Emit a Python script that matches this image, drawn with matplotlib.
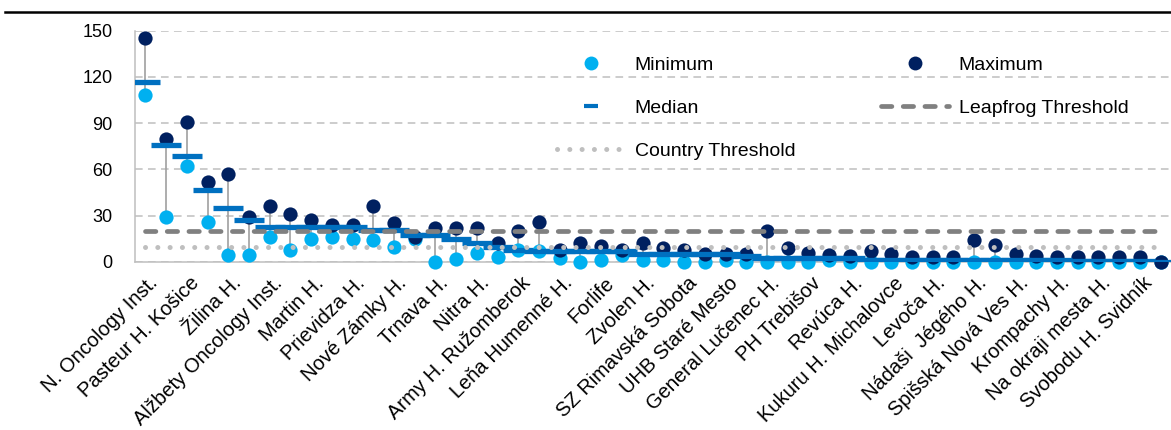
import numpy as np
import matplotlib
matplotlib.use("Agg")
import matplotlib.pyplot as plt
from matplotlib.lines import Line2D

plt.rcParams['font.family'] = ['Liberation Sans', 'DejaVu Sans']

# Etiquetas (una de cada dos categorías lleva nombre)
labels = ["N. Oncology Inst.", "Pasteur H. Košice", "Žilina H.", "Alžbety Oncology Inst.",
          "Martin H.", "Prievidza H.", "Nové Zámky H.", "Trnava H.", "Nitra H.",
          "Army H. Ružomberok", "Leňa Humenné H.", "Forlife", "Zvolen H.",
          "SZ Rimavská Sobota", "UHB Staré Mesto", "General Lučenec H.", "PH Trebišov",
          "Revúca H.", "Kukuru H. Michalovce", "Levoča H.", "Nádaši  Jégého H.",
          "Spišská Nová Ves H.", "Krompachy H.", "Na okraji mesta H.", "Svobodu H. Svidník"]

maximum = [145, 80, 91, 52, 57, 29, 36, 31, 27, 24,
           24, 36, 25, 16.5, 22, 22, 22, 12, 20, 26,
           8, 12.5, 10.5, 8, 12, 9, 8, 5, 5, 5,
           20, 9, 6, 4.5, 4, 7, 5, 3, 3, 3,
           14, 11, 5, 4, 3, 3, 3, 3, 3, 0]
minimum = [108, 29, 62, 26, 4.5, 4.5, 16, 8, 15, 16.5,
           15, 14, 10, 15, 0, 2, 6, 3, 8, 7,
           2.5, 0, 1, 4.5, 1.5, 1.5, 0, 0, 1.5, 0,
           0, 0, 0, 1.5, 0, 0, 0, 0, 0, 0,
           0, 0, 0, 0, 0, 0, 0, 0, 0, 0]
median = [117, 76, 69, 47, 35, 27, 23, 23, 23, 23,
          23, 21, 21, 17.5, 17.5, 15, 12, 10, 8, 7.3,
          7, 7, 7, 7, 5, 5, 5, 5, 5, 4,
          2.4, 2.4, 2.4, 2.4, 2.4, 1, 1, 1, 1, 1,
          1, 1, 1, 1, 1, 0.7, 0.7, 0.7, 0.7, 0]
leapfrog_threshold = 20
country_threshold = 10

c_min = "#00B0F0"
c_max = "#002060"
c_med = "#0070C0"
c_leap = "#808080"
c_country = "#BFBFBF"

leap_style = dict(color=c_leap, lw=3.4, dashes=(2.2, 2.4), dash_capstyle="round")
country_style = dict(color=c_country, lw=3.6, dashes=(0.01, 2.45), dash_capstyle="round")

n = len(maximum)
x = np.arange(n)

fig = plt.figure(figsize=(11.71, 4.30), dpi=100)
ax = fig.add_axes([135 / 1171, 168 / 430, 1036 / 1171, 231.3 / 430])

# Líneas alto-bajo
ax.vlines(x, minimum, maximum, colors="#A0A0A0", lw=1.2, zorder=2)
ax.scatter(x, minimum, s=105, color=c_min, zorder=3, clip_on=False, linewidths=0)
ax.scatter(x, maximum, s=105, color=c_max, zorder=4, clip_on=False, linewidths=0)
ax.hlines(median, x - 0.72, x + 0.72, colors=c_med, lw=3.8, zorder=5)
ax.plot(x, [leapfrog_threshold] * n, zorder=6, **leap_style)
ax.plot(x, [country_threshold] * n, zorder=7, **country_style)

ax.set_xlim(-0.5, n - 0.5)
ax.set_ylim(0, 150)
ax.set_yticks([0, 30, 60, 90, 120, 150])
ax.yaxis.grid(True, color="#BFBFBF", lw=1.1, dashes=(5, 3.5))
ax.set_axisbelow(True)
ax.tick_params(axis="y", length=0, pad=16, labelsize=13)
ax.tick_params(axis="x", length=0, pad=0)
ax.set_xticks(x[::2])
ax.set_xticklabels([])
for xi, lab in zip(x[::2], labels):
    ax.annotate(lab, xy=(xi, 0), xycoords=("data", "axes fraction"),
                xytext=(7, -13), textcoords="offset points", rotation=45,
                rotation_mode="anchor", ha="right", va="center", fontsize=14.5)

for s in ["top", "right"]:
    ax.spines[s].set_visible(False)
for s in ["left", "bottom"]:
    ax.spines[s].set_color("#BFBFBF")
    ax.spines[s].set_linewidth(1.1)

handles = [
    Line2D([], [], ls="none", marker="o", ms=10, color=c_min, mew=0),
    Line2D([], [], ls="none", marker="_", ms=10, mew=3, color=c_med),
    Line2D([], [], **country_style),
    Line2D([], [], ls="none", marker="o", ms=10, color=c_max, mew=0),
    Line2D([], [], **leap_style),
]
names = ["Minimum", "Median", "Country Threshold", "Maximum", "Leapfrog Threshold"]
ax.legend(handles, names, ncol=2, frameon=False, fontsize=14,
          loc="upper left", bbox_to_anchor=(557 / 1171, 1 - 56 / 430),
          bbox_transform=fig.transFigure, borderaxespad=0, borderpad=0,
          handlelength=3.5, handletextpad=0.5, columnspacing=4.4, labelspacing=1.32)

# Línea negra superior
fig.add_artist(Line2D([0.004, 1.0], [1 - 11.5 / 430] * 2, color="black", lw=1.8))

fig.savefig("out.png", dpi=100)
